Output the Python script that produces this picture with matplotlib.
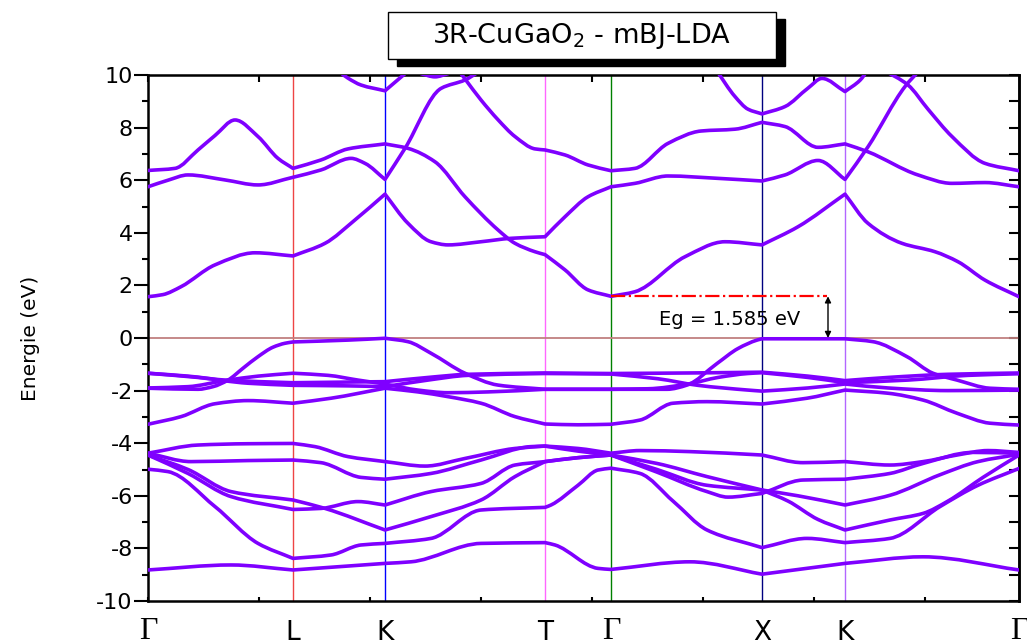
import matplotlib
matplotlib.use("Agg")
import matplotlib.pyplot as plt
from matplotlib.patches import Rectangle, PathPatch
from matplotlib.path import Path

plt.rcParams['axes.unicode_minus'] = False

# high symmetry points along the k-path (path length units)
kpt_pos = [0, 145, 237, 397, 463, 614, 697, 871]
kpt_names = ['Γ', 'L', 'K', 'T', 'Γ', 'X', 'K', 'Γ']
kpt_colors = [None, '#ee4444', '#0000ff', '#ff66ff', '#008000', '#000080', '#b266ff', None]

eg = 1.585

# conduction bands (k, E in eV)
cb1_k = [0, 15, 33, 67, 107, 145, 177, 207, 237, 260, 283, 300, 333, 363, 397, 417, 440, 463, 487, 520, 570, 614, 637, 670, 697, 720, 757, 772]
cb1_e = [1.57, 1.65, 1.95, 2.78, 3.24, 3.12, 3.6, 4.49, 5.47, 4.36, 3.66, 3.54, 3.66, 3.79, 3.85, 4.61, 5.37, 5.75, 5.88, 6.16, 6.07, 5.97, 6.2, 6.75, 6.03, 7.27, 9.56, 10.2]
cb2_k = [0, 27, 50, 67, 87, 110, 130, 145, 173, 200, 237, 260, 287, 317, 350, 367, 387, 397, 417, 440, 463, 487, 537, 577, 614, 650, 697, 720, 754, 787, 810, 837, 871]
cb2_e = [6.37, 6.45, 7.15, 7.7, 8.29, 7.66, 6.83, 6.45, 6.77, 7.19, 7.38, 7.21, 6.7, 5.37, 4.11, 3.6, 3.28, 3.17, 2.59, 1.83, 1.585, 1.76, 3.09, 3.66, 3.54, 4.23, 5.47, 4.36, 3.6, 3.28, 2.9, 2.2, 1.57]
cb3_k = [0, 20, 40, 77, 110, 145, 173, 203, 217, 237, 257, 293, 317, 330]
cb3_e = [5.75, 6.0, 6.2, 6.01, 5.82, 6.11, 6.39, 6.83, 6.64, 6.03, 7.21, 9.49, 9.81, 10.1]
cb4_k = [310, 317, 333, 350, 367, 387, 397, 417, 440, 463, 487, 520, 553, 587, 614, 637, 670, 697, 720, 770, 804, 837, 871]
cb4_e = [10.2, 9.85, 9.05, 8.3, 7.66, 7.19, 7.15, 6.96, 6.58, 6.36, 6.45, 7.4, 7.87, 7.94, 8.2, 8.04, 7.25, 7.38, 7.08, 6.2, 5.88, 5.91, 5.75]
cb5_k = [735, 760, 780, 804, 837, 871]
cb5_e = [10.2, 9.62, 8.7, 7.66, 6.64, 6.36]
cb6_k = [568, 587, 600, 614, 637, 660, 674, 697, 712, 720]
cb6_e = [10.2, 9.18, 8.7, 8.52, 8.8, 9.5, 9.87, 9.37, 9.8, 10.2]
cb7_k = [192, 200, 213, 237, 257]
cb7_e = [10.1, 9.88, 9.62, 9.4, 10.05]
cb8_k = [273, 287, 300]
cb8_e = [10.05, 9.93, 10.05]

# valence bands
vb1_k = [0, 50, 65, 80, 95, 110, 125, 137, 145, 200, 237, 260, 283, 317, 350, 397, 463, 519, 539, 569, 590, 609, 614, 697, 725, 759, 785, 809, 842, 871]
vb1_e = [-1.91, -1.95, -1.85, -1.6, -1.15, -0.71, -0.35, -0.2, -0.15, -0.08, -0.01, -0.14, -0.58, -1.34, -1.79, -1.95, -1.95, -1.95, -1.79, -0.97, -0.4, -0.08, -0.03, -0.03, -0.14, -0.71, -1.34, -1.6, -1.91, -1.95]
vb2_k = [0, 40, 77, 145, 190, 237, 280, 320, 397, 463, 540, 614, 660, 697, 740, 800, 871]
vb2_e = [-1.34, -1.45, -1.60, -1.70, -1.68, -1.66, -1.5, -1.38, -1.33, -1.35, -1.33, -1.30, -1.45, -1.62, -1.50, -1.38, -1.33]
vb3_k = [0, 40, 77, 110, 145, 180, 210, 237, 270, 300, 340, 397, 463, 500, 540, 570, 600, 614, 660, 697, 760, 820, 871]
vb3_e = [-1.90, -1.85, -1.62, -1.45, -1.34, -1.42, -1.6, -1.75, -1.98, -2.08, -2.05, -1.95, -1.95, -1.93, -1.75, -1.5, -1.35, -1.32, -1.5, -1.70, -1.6, -1.42, -1.36]
vb4_k = [0, 50, 100, 145, 200, 237, 280, 320, 397, 463, 510, 550, 600, 614, 660, 697, 740, 800, 871]
vb4_e = [-1.34, -1.50, -1.72, -1.80, -1.82, -1.85, -1.6, -1.42, -1.35, -1.37, -1.55, -1.80, -1.98, -2.02, -1.90, -1.75, -1.90, -2.0, -1.98]
vb5_k = [0, 33, 67, 100, 145, 183, 237, 270, 300, 333, 367, 397, 430, 463, 492, 525, 559, 614, 659, 697, 740, 775, 809, 842, 871]
vb5_e = [-3.28, -2.99, -2.5, -2.38, -2.48, -2.29, -1.91, -2.05, -2.23, -2.48, -2.99, -3.27, -3.30, -3.28, -3.12, -2.48, -2.42, -2.51, -2.29, -1.98, -2.1, -2.36, -2.86, -3.24, -3.31]

# lower valence bands
lb1_k = [0, 50, 100, 145, 167, 200, 237, 277, 317, 367, 397, 430, 463, 492, 542, 614, 655, 697, 742, 775, 809, 840, 871]
lb1_e = [-4.38, -4.07, -4.02, -4.01, -4.13, -4.51, -4.70, -4.87, -4.58, -4.20, -4.11, -4.2, -4.38, -4.28, -4.32, -4.45, -4.74, -4.70, -4.83, -4.70, -4.45, -4.28, -4.35]
lb2_k = [0, 43, 100, 145, 173, 213, 237, 283, 333, 383, 397, 430, 463, 509, 559, 614, 640, 670, 697, 742, 775, 800, 835, 871]
lb2_e = [-4.38, -4.70, -4.66, -4.64, -4.74, -5.30, -5.37, -5.15, -4.64, -4.13, -4.11, -4.3, -4.45, -4.77, -5.27, -5.78, -6.2, -6.9, -7.30, -6.92, -6.67, -6.2, -5.3, -4.45]
lb3_k = [0, 40, 83, 145, 177, 237, 283, 333, 367, 397, 430, 463, 509, 559, 614, 650, 697, 742, 792, 830, 871]
lb3_e = [-4.45, -5.0, -5.84, -6.16, -6.48, -7.30, -6.79, -6.16, -5.27, -4.70, -4.55, -4.45, -5.0, -5.6, -5.78, -6.0, -6.35, -5.98, -5.2, -4.7, -4.42]
lb4_k = [0, 40, 83, 145, 173, 210, 237, 283, 333, 367, 397, 430, 463, 509, 559, 580, 614, 655, 697, 742, 775, 825, 871]
lb4_e = [-4.45, -5.15, -6.03, -6.52, -6.48, -6.22, -6.35, -5.84, -5.53, -4.83, -4.70, -4.55, -4.45, -5.1, -5.84, -6.05, -5.91, -5.4, -5.37, -5.15, -4.77, -4.35, -4.38]
lb5_k = [0, 20, 67, 110, 145, 183, 213, 237, 283, 333, 397, 403, 430, 450, 463, 492, 525, 559, 614, 659, 697, 742, 792, 830, 871]
lb5_e = [-4.99, -5.08, -6.41, -7.81, -8.38, -8.25, -7.87, -7.81, -7.62, -6.54, -6.44, -6.35, -5.6, -5.02, -4.95, -5.15, -6.2, -7.30, -7.97, -7.62, -7.78, -7.62, -6.41, -5.6, -4.96]
lb6_k = [0, 83, 145, 237, 263, 333, 397, 407, 450, 463, 542, 614, 697, 775, 871]
lb6_e = [-8.82, -8.63, -8.82, -8.57, -8.51, -7.81, -7.78, -7.87, -8.76, -8.80, -8.51, -8.98, -8.57, -8.32, -8.82]

bands = [(cb1_k, cb1_e), (cb2_k, cb2_e), (cb3_k, cb3_e), (cb4_k, cb4_e), (cb5_k, cb5_e),
         (cb6_k, cb6_e), (cb7_k, cb7_e), (cb8_k, cb8_e),
         (vb1_k, vb1_e), (vb2_k, vb2_e), (vb3_k, vb3_e), (vb4_k, vb4_e), (vb5_k, vb5_e),
         (lb1_k, lb1_e), (lb2_k, lb2_e), (lb3_k, lb3_e), (lb4_k, lb4_e), (lb5_k, lb5_e), (lb6_k, lb6_e)]


def smooth_path(k, e):
    # spline-connected line (like Origin), kinks kept at the high symmetry points
    verts = [(k[0], e[0])]
    codes = [Path.MOVETO]
    start = 0
    cuts = [i for i in range(1, len(k)) if k[i] in kpt_pos or i == len(k) - 1]
    for end in cuts:
        xs, ys = k[start:end + 1], e[start:end + 1]
        n = len(xs)
        h = [xs[i + 1] - xs[i] for i in range(n - 1)]
        d = [(ys[i + 1] - ys[i]) / h[i] for i in range(n - 1)]
        m = [0.0] * n
        m[0], m[-1] = d[0], d[-1]
        for i in range(1, n - 1):
            if d[i - 1] * d[i] <= 0:
                m[i] = 0.0
            else:
                w1 = 2 * h[i] + h[i - 1]
                w2 = h[i] + 2 * h[i - 1]
                m[i] = (w1 + w2) / (w1 / d[i - 1] + w2 / d[i])
        for i in range(n - 1):
            verts += [(xs[i] + h[i] / 3, ys[i] + m[i] * h[i] / 3),
                      (xs[i + 1] - h[i] / 3, ys[i + 1] - m[i + 1] * h[i] / 3),
                      (xs[i + 1], ys[i + 1])]
            codes += [Path.CURVE4] * 3
        start = end
    return Path(verts, codes)


W, H = 1027, 644
fig = plt.figure(figsize=(W / 100, H / 100), dpi=100)
ax = fig.add_axes([148 / W, 1 - 601 / H, 871 / W, 526 / H])

# vertical lines at high symmetry points + Fermi level
for kp, c in zip(kpt_pos, kpt_colors):
    if c:
        ax.axvline(kp, color=c, lw=1.0, zorder=1)
ax.axhline(0, color='#c08080', lw=1.3, zorder=1)

for k, e in bands:
    ax.add_patch(PathPatch(smooth_path(k, e), fill=False, edgecolor='#7f00ff', lw=2.6,
                           joinstyle='round', capstyle='round', zorder=3))

# band gap annotation
ax.plot([kpt_pos[4], 679], [eg, eg], color='red', ls='-.', lw=1.6, zorder=4)
ax.annotate('', xy=(680, 0), xytext=(680, eg),
            arrowprops=dict(arrowstyle='<|-|>', color='black', lw=1.0,
                            mutation_scale=9, shrinkA=0, shrinkB=0), zorder=5)
ax.text(582, 0.70, 'Eg = %.3f eV' % eg, ha='center', va='center', fontsize=14)

ax.set_xlim(0, 871)
ax.set_ylim(-10, 10)
ax.set_yticks(range(-10, 11, 2))
ax.set_yticks(range(-10, 11, 1), minor=True)
ax.set_xticks(range(0, 871, 111))
ax.tick_params(axis='y', which='major', direction='out', length=10, width=1.5, labelsize=16, pad=1)
ax.tick_params(axis='y', which='minor', direction='out', length=4, width=1.5)
ax.tick_params(axis='x', which='major', direction='in', length=3, width=1.5, labelbottom=False)
for s in ax.spines.values():
    s.set_linewidth(1.8)

right = ax.secondary_yaxis('right')
right.set_yticks(range(-10, 11, 1))
right.tick_params(direction='in', length=7, width=1.5, labelright=False)
right.spines['right'].set_linewidth(1.8)
top = ax.secondary_xaxis('top')
top.set_xticks(range(0, 871, 111))
top.tick_params(direction='in', length=5, width=1.5, labeltop=False)

for kp, name in zip(kpt_pos, kpt_names):
    if name == 'Γ':
        ax.text(kp, -0.058, name, transform=ax.get_xaxis_transform(), ha='center', va='center',
                fontsize=23, family='Liberation Serif')
    else:
        ax.text(kp, -0.06, name, transform=ax.get_xaxis_transform(), ha='center', va='center',
                fontsize=19)

fig.text(30 / W, 1 - 338 / H, 'Energie (eV)', rotation=90, ha='center', va='center', fontsize=14.5)

# title box with shadow
fig.patches.append(Rectangle((397 / W, 1 - 66 / H), 388 / W, 47 / H, transform=fig.transFigure,
                             facecolor='black', edgecolor='black', zorder=1))
fig.patches.append(Rectangle((388 / W, 1 - 59 / H), 388 / W, 47 / H, transform=fig.transFigure,
                             facecolor='white', edgecolor='black', lw=1.0, zorder=2))
fig.text(582 / W, 1 - 36 / H, '3R-CuGaO$_2$ - mBJ-LDA', ha='center', va='center', fontsize=19.5, zorder=3)

fig.savefig('out.png', dpi=100)
